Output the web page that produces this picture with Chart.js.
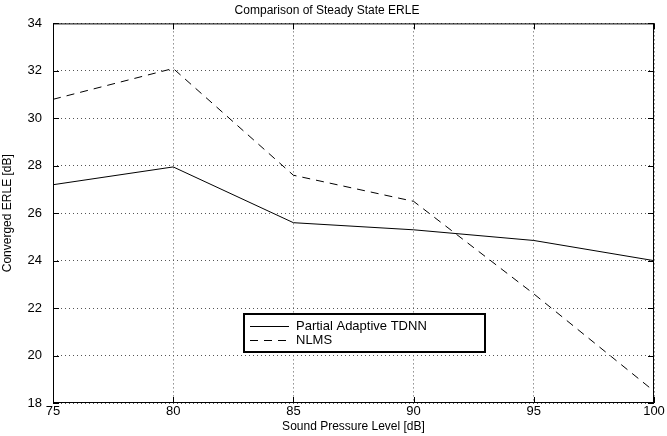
<!DOCTYPE html>
<html>
<head>
<meta charset="utf-8">
<script src="https://cdn.jsdelivr.net/npm/chart.js@4.4.0/dist/chart.umd.min.js"></script>
<style>
  html, body { margin: 0; padding: 0; background: #fff; }
  #wrap { width: 667px; height: 436px; }
</style>
</head>
<body>
<div id="wrap"><canvas id="c" width="667" height="436"></canvas></div>
<script>
// values
const splLevels = [75, 80, 85, 90, 95, 100]
const tdnnErle = [27.2, 27.95, 25.6, 25.3, 24.85, 24.0]
const nlmsErle = [30.8, 32.1, 27.6, 26.5, 22.6, 18.5]
const xTicks = [75, 80, 85, 90, 95, 100]
const yTicks = [18, 20, 22, 24, 26, 28, 30, 32, 34]

const FONT = 'Liberation Sans, Arial, Helvetica, sans-serif'

// box around the axes, inner tick marks, legend box
const matlabFrame = {
  id: 'matlabFrame',
  afterDatasetsDraw(chart) {
    const { ctx, chartArea: a, scales } = chart
    ctx.save()
    ctx.strokeStyle = '#000'
    ctx.lineWidth = 1
    ctx.setLineDash([])
    ctx.strokeRect(a.left + 0.5, a.top + 0.5, a.right - a.left - 1, a.bottom - a.top - 1)

    ctx.beginPath()
    xTicks.forEach(v => {
      const x = Math.round(scales.x.getPixelForValue(v)) + 0.5
      ctx.moveTo(x, a.bottom); ctx.lineTo(x, a.bottom - 6)
      ctx.moveTo(x, a.top); ctx.lineTo(x, a.top + 6)
    })
    yTicks.forEach(v => {
      const y = Math.round(scales.y.getPixelForValue(v)) + 0.5
      ctx.moveTo(a.left, y); ctx.lineTo(a.left + 6, y)
      ctx.moveTo(a.right, y); ctx.lineTo(a.right - 6, y)
    })
    ctx.stroke()

    // legend
    const lx = 244, ly = 314, lw = 241, lh = 38
    ctx.fillStyle = '#fff'
    ctx.fillRect(lx, ly, lw, lh)
    ctx.lineWidth = 2
    ctx.strokeRect(lx, ly, lw, lh)
    ctx.lineWidth = 1
    ctx.font = '13px ' + FONT
    ctx.fillStyle = '#000'
    ctx.textBaseline = 'middle'
    const items = chart.data.datasets
    items.forEach((ds, i) => {
      const y = ly + 12 + i * 14 + 0.5
      ctx.setLineDash(ds.borderDash || [])
      ctx.beginPath()
      ctx.moveTo(lx + 6, y); ctx.lineTo(lx + 45, y)
      ctx.stroke()
      ctx.setLineDash([])
      ctx.fillText(ds.label, lx + 52, y)
    })
    ctx.restore()
  }
}

new Chart(document.getElementById('c'), {
  type: 'line',
  data: {
    datasets: [
      {
        label: 'Partial Adaptive TDNN',
        data: splLevels.map((x, i) => ({ x, y: tdnnErle[i] })),
        borderColor: '#000',
        borderWidth: 1,
        pointRadius: 0,
        tension: 0
      },
      {
        label: 'NLMS',
        data: splLevels.map((x, i) => ({ x, y: nlmsErle[i] })),
        borderColor: '#000',
        borderWidth: 1,
        borderDash: [8, 6],
        pointRadius: 0,
        tension: 0
      }
    ]
  },
  options: {
    responsive: false,
    animation: false,
    layout: { padding: { left: 0, right: 13, top: 0, bottom: 0 } },
    plugins: {
      legend: { display: false },
      tooltip: { enabled: false },
      title: {
        display: true,
        text: 'Comparison of Steady State ERLE',
        color: '#000',
        font: { family: FONT, size: 12, weight: 'normal' },
        padding: { top: 3, bottom: 6 }
      }
    },
    scales: {
      x: {
        type: 'linear',
        min: 75,
        max: 100,
        afterBuildTicks: s => { s.ticks = xTicks.map(v => ({ value: v })) },
        afterFit: s => { s.height = 33 },
        grid: { color: '#555', drawTicks: false, lineWidth: 1 },
        border: { display: false, dash: [1, 3] },
        ticks: { color: '#000', padding: 1, font: { family: FONT, size: 13 } },
        title: {
          display: true,
          text: 'Sound Pressure Level [dB]',
          color: '#000',
          padding: { top: 0, bottom: 2 },
          font: { family: FONT, size: 12 }
        }
      },
      y: {
        min: 18,
        max: 34,
        afterBuildTicks: s => { s.ticks = yTicks.map(v => ({ value: v })) },
        afterFit: s => { s.width = 53 },
        grid: { color: '#555', drawTicks: false, lineWidth: 1 },
        border: { display: false, dash: [1, 3] },
        ticks: { color: '#000', padding: 11, font: { family: FONT, size: 13 } },
        title: {
          display: true,
          text: 'Converged ERLE [dB]',
          color: '#000',
          padding: { top: 0, bottom: 0 },
          font: { family: FONT, size: 12 }
        }
      }
    }
  },
  plugins: [matlabFrame]
})
</script>
</body>
</html>
